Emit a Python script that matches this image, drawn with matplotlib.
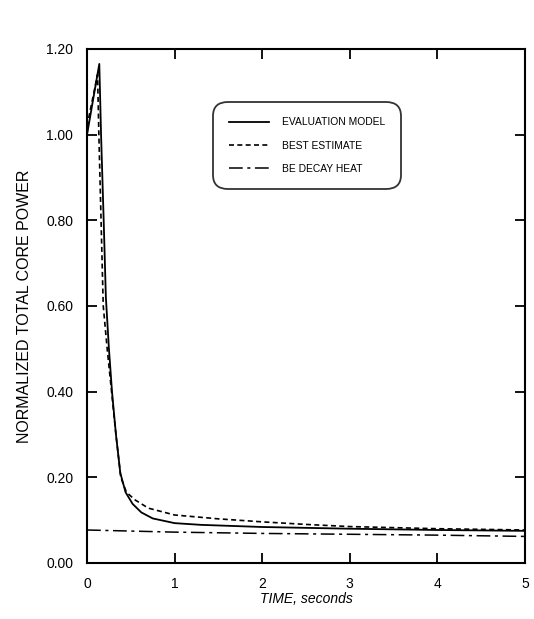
import matplotlib
matplotlib.use("Agg")
import matplotlib.pyplot as plt

# evaluation model (solid)
t_eval = [0.0, 0.14, 0.16, 0.19, 0.215, 0.25, 0.285, 0.33, 0.38, 0.44, 0.52, 0.62, 0.75, 1.0, 1.3, 2.0, 3.0, 4.0, 5.0]
p_eval = [1.0, 1.165, 1.0, 0.8, 0.62, 0.5, 0.4, 0.3, 0.21, 0.165, 0.138, 0.118, 0.104, 0.093, 0.089, 0.084, 0.080, 0.077, 0.075]

# best estimate (dashed)
t_best = [0.0, 0.01, 0.12, 0.135, 0.16, 0.185, 0.23, 0.28, 0.33, 0.385, 0.45, 0.55, 0.7, 1.0, 1.5, 2.0, 2.5, 3.0, 4.0, 5.0]
p_best = [1.0, 1.03, 1.14, 1.0, 0.8, 0.6, 0.5, 0.4, 0.3, 0.2, 0.165, 0.147, 0.128, 0.112, 0.103, 0.096, 0.090, 0.085, 0.080, 0.077]

# BE decay heat (dash-dot)
t_decay = [0.0, 1.0, 2.0, 3.0, 4.0, 5.0]
p_decay = [0.077, 0.072, 0.069, 0.067, 0.065, 0.062]

xticks = [0, 1, 2, 3, 4, 5]
yticks = [0.0, 0.2, 0.4, 0.6, 0.8, 1.0, 1.2]

plt.rcParams['font.family'] = ['Liberation Sans', 'DejaVu Sans']

fig = plt.figure(figsize=(5.34, 6.19), dpi=100)
ax = fig.add_axes([0.163, 0.0905, 0.82, 0.8305])

ax.plot(t_eval, p_eval, color='black', lw=1.3, label='EVALUATION MODEL')
ax.plot(t_best, p_best, color='black', lw=1.2, dashes=(3, 2), label='BEST ESTIMATE')
ax.plot(t_decay, p_decay, color='black', lw=1.1, dashes=(9, 3, 2, 3), label='BE DECAY HEAT')

ax.set_xlim(0, 5)
ax.set_ylim(0, 1.2)
ax.set_xticks(xticks)
ax.set_yticks(yticks)
ax.set_yticklabels(['%.2f' % v for v in yticks])
ax.tick_params(direction='in', top=True, right=True, length=7, width=1.3, labelsize=10)
ax.tick_params(axis='y', pad=10)
ax.tick_params(axis='x', pad=10)
for s in ax.spines.values():
    s.set_linewidth(1.5)

ax.set_xlabel('TIME, seconds', fontstyle='italic', fontsize=10, labelpad=1)
ax.set_ylabel('NORMALIZED TOTAL CORE POWER', fontsize=11.5, labelpad=10)

leg = ax.legend(loc='upper left', bbox_to_anchor=(0.288, 0.897), borderaxespad=0,
                fontsize=7.4, handlelength=3.9, labelspacing=1.3, borderpad=1.5,
                handletextpad=1.3, fancybox=True, frameon=True)
frame = leg.get_frame()
frame.set_edgecolor('black')
frame.set_linewidth(1.3)
frame.set_boxstyle('round,pad=0,rounding_size=1.4')

fig.savefig('out.png', dpi=100)
